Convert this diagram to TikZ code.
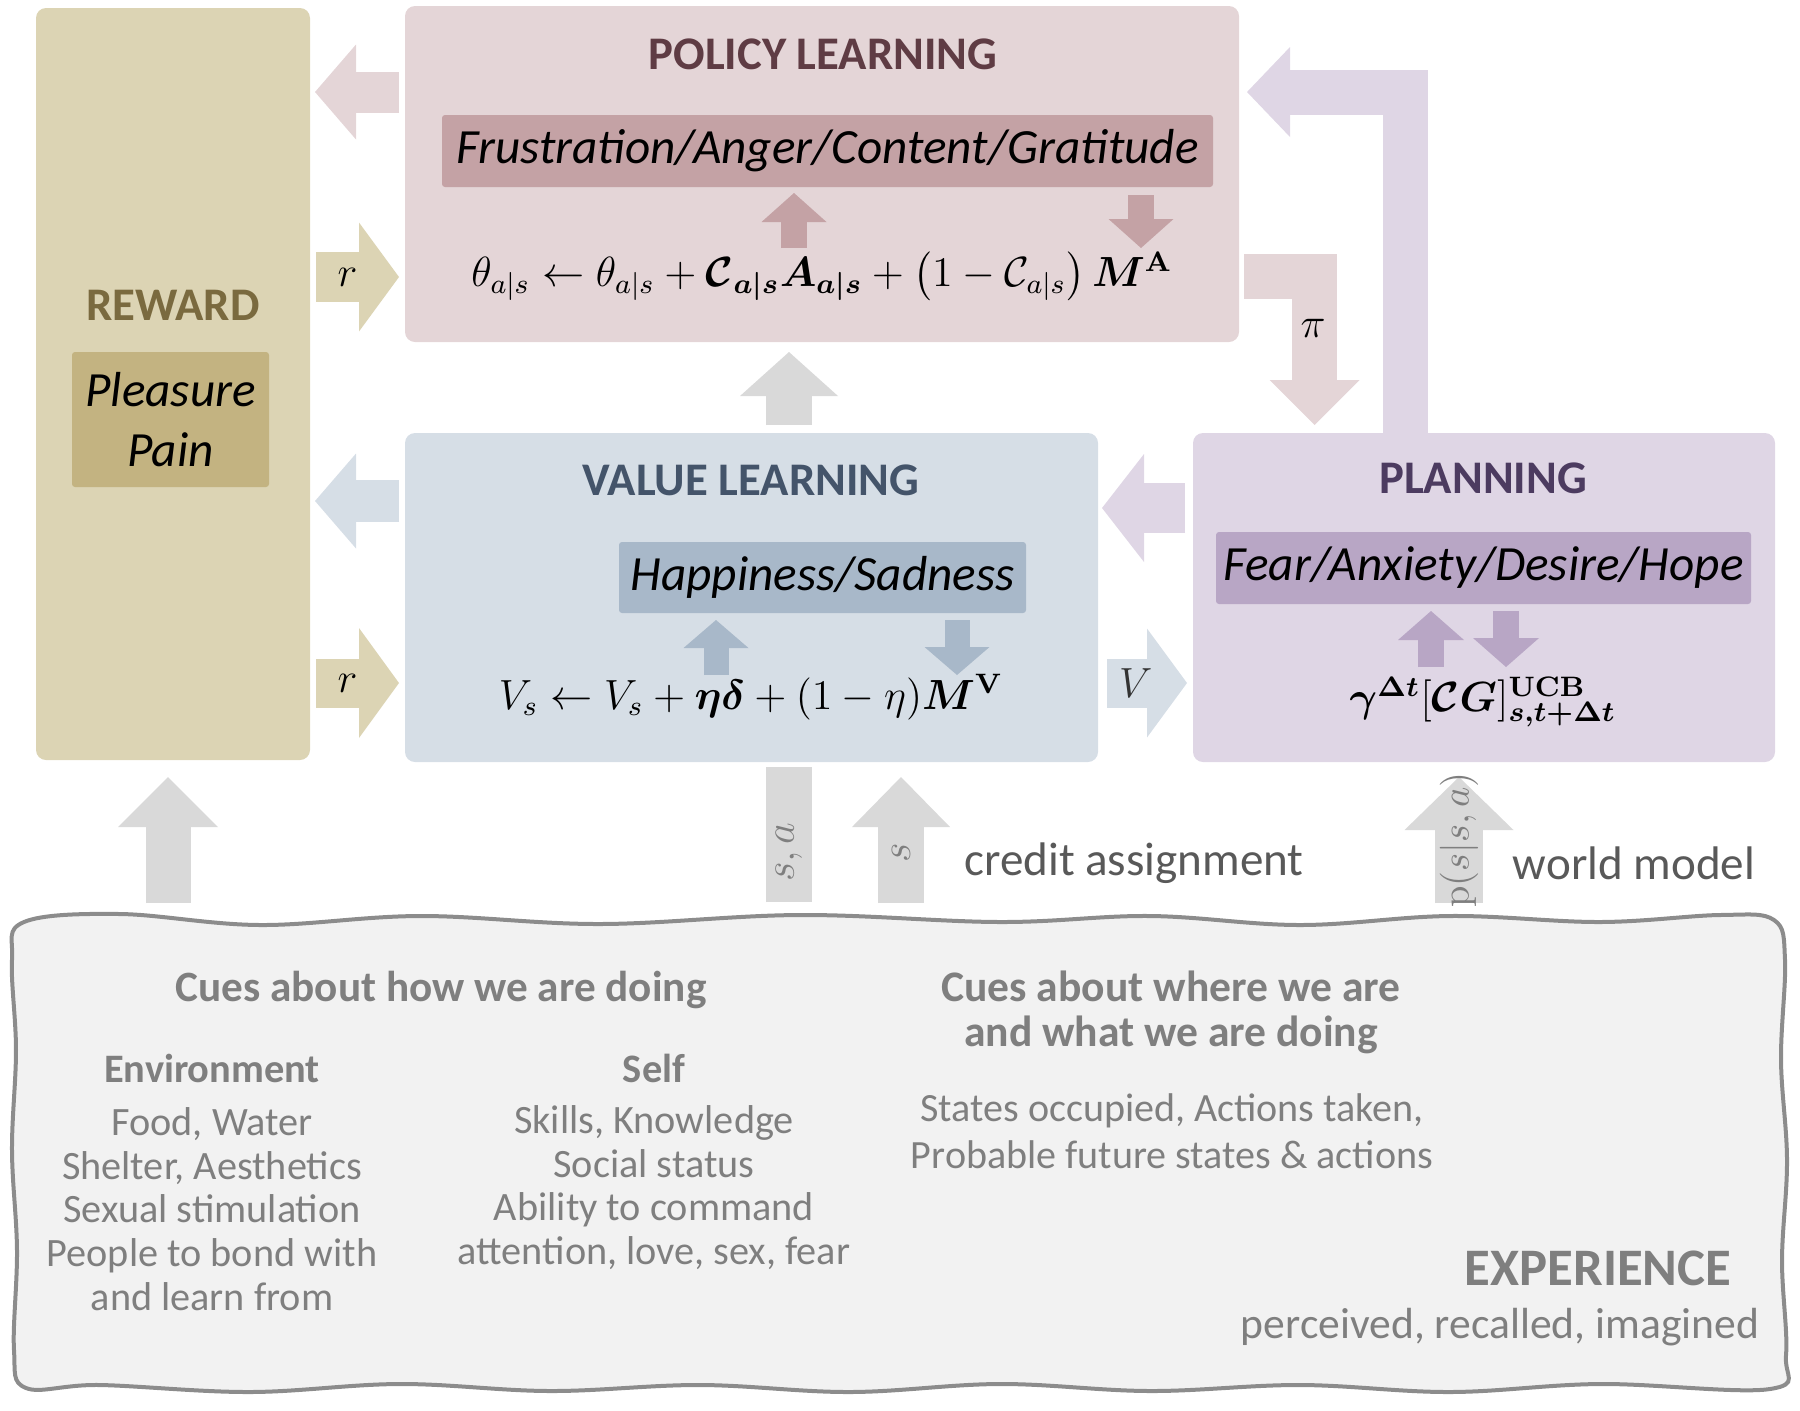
\documentclass[tikz,border=0pt]{standalone}
\usepackage[no-math]{fontspec}
\setmainfont{Carlito}
\usepackage{amsmath}
\usepackage{amssymb}
\usepackage{bm}
\usetikzlibrary{arrows.meta}

\definecolor{rewardbg}{HTML}{DCD4B4}
\definecolor{rewardbar}{HTML}{C3B381}
\definecolor{rewardtxt}{HTML}{7A6A3F}
\definecolor{policybg}{HTML}{E4D5D7}
\definecolor{policybar}{HTML}{C4A2A5}
\definecolor{policytxt}{HTML}{5F3C44}
\definecolor{valuebg}{HTML}{D6DEE6}
\definecolor{valuebar}{HTML}{A8B8C9}
\definecolor{valuetxt}{HTML}{44546A}
\definecolor{planbg}{HTML}{DFD6E5}
\definecolor{planbar}{HTML}{B8A6C5}
\definecolor{plantxt}{HTML}{4C3B60}
\definecolor{cuegray}{HTML}{D9D9D9}
\definecolor{expbg}{HTML}{F2F2F2}
\definecolor{expline}{HTML}{8C8C8C}
\definecolor{exptxt}{HTML}{7F7F7F}
\definecolor{darktxt}{HTML}{595959}

\tikzset{
  box/.style={rounded corners=1mm, inner sep=0pt},
  emobar/.style={rounded corners=0.3mm, inner sep=0pt},
  title/.style={font=\fontsize{13.3}{16}\selectfont\bfseries},
  emo/.style={font=\fontsize{14}{17}\selectfont\itshape},
  eqn/.style={inner sep=0.5pt, font=\fontsize{11.6}{14}\selectfont},
  lbl/.style={font=\fontsize{13}{15}\selectfont},
  cue/.style={text=exptxt, align=center, font=\fontsize{11.45}{12.4}\selectfont},
  cuehead/.style={text=exptxt, align=center, font=\fontsize{11.5}{13}\selectfont\bfseries},
  fat/.style n args={3}{line width=#1, line join=miter,
    -{Triangle[length=#2, width=#3, line width=0pt]}},
}

\begin{document}
\begin{tikzpicture}[x=0.1mm, y=-0.1mm]
  \useasboundingbox (0,0) rectangle (1800,1410);

  % boxes
  \node[box, fill=rewardbg, minimum width=27.4mm, minimum height=75.2mm] (reward) at (173,384) {};
  \node[box, fill=policybg, minimum width=83.4mm, minimum height=33.6mm] (policy) at (822,174) {};
  \node[box, fill=valuebg, minimum width=69.3mm, minimum height=32.9mm] (value) at (751.5,597.5) {};
  \node[box, fill=planbg, minimum width=58.2mm, minimum height=32.9mm] (plan) at (1484,597.5) {};

  \node[title, text=rewardtxt] (rewardt) at (173,305) {REWARD};
  \node[title, text=policytxt] (policyt) at (823,54) {POLICY LEARNING};
  \node[title, text=valuetxt] (valuet) at (751,480) {VALUE LEARNING};
  \node[title, text=plantxt] (plant) at (1483,478) {PLANNING};

  % emotions
  \node[emobar, fill=rewardbar, minimum width=19.7mm, minimum height=13.5mm,
        emo, align=center] (pleasure) at (170.5,419.5) {Pleasure\\Pain};
  \node[emobar, fill=policybar, minimum width=77.1mm, minimum height=7.2mm, emo] (frust) at (827.5,151) {Frustration/Anger/Content/Gratitude};
  \node[emobar, fill=valuebar, minimum width=40.7mm, minimum height=7.1mm, emo] (happy) at (822.5,577.5) {Happiness/Sadness};
  \node[emobar, fill=planbar, minimum width=53.5mm, minimum height=7.2mm, emo] (fear) at (1483.5,568) {Fear/Anxiety/Desire/Hope};

  % updates
  \node[eqn] (poleq) at (822,276) {$\theta_{a|s} \leftarrow \theta_{a|s} + \bm{\mathcal{C}}_{\bm{a|s}}\bm{A}_{\bm{a|s}} + \left(1 - \mathcal{C}_{a|s}\right)\bm{M}^{\mathbf{A}}$};
  \node[eqn] (valeq) at (751,697) {$V_s \leftarrow V_s + \bm{\eta\delta} + (1-\eta)\bm{M}^{\mathbf{V}}$};
  \node[eqn] (planeq) at (1483,702) {$\bm{\gamma}^{\bm{\Delta t}}[\bm{\mathcal{C}G}]^{\mathbf{UCB}}_{\bm{s,t+\Delta t}}$};

  % little arrows between emotions and updates
  \coordinate (pu1) at (794,248); \coordinate (pu2) at (794,193);
  \coordinate (pd1) at (1141,195); \coordinate (pd2) at (1141,248);
  \coordinate (vu1) at (716,675); \coordinate (vu2) at (716,620);
  \coordinate (vd1) at (957,620); \coordinate (vd2) at (957,675);
  \coordinate (lu1) at (1431,667); \coordinate (lu2) at (1431,611);
  \coordinate (ld1) at (1506,611); \coordinate (ld2) at (1506,667);
  \draw[fat={2.6mm}{2.9mm}{6.5mm}, policybar] (pu1) -- (pu2);
  \draw[fat={2.6mm}{2.9mm}{6.5mm}, policybar] (pd1) -- (pd2);
  \draw[fat={2.5mm}{2.8mm}{6.5mm}, valuebar] (vu1) -- (vu2);
  \draw[fat={2.5mm}{2.8mm}{6.5mm}, valuebar] (vd1) -- (vd2);
  \draw[fat={2.6mm}{2.9mm}{6.6mm}, planbar] (lu1) -- (lu2);
  \draw[fat={2.6mm}{2.9mm}{6.6mm}, planbar] (ld1) -- (ld2);

  % big arrows
  \coordinate (pol2rew1) at (399,92);  \coordinate (pol2rew2) at (315,92);
  \coordinate (rew2pol1) at (316,277); \coordinate (rew2pol2) at (399,277);
  \coordinate (val2rew1) at (399,501); \coordinate (val2rew2) at (315,501);
  \coordinate (rew2val1) at (316,683); \coordinate (rew2val2) at (399,683);
  \coordinate (pla2val1) at (1185,508); \coordinate (pla2val2) at (1102,508);
  \coordinate (val2pla1) at (1107,683); \coordinate (val2pla2) at (1187,683);
  \coordinate (pol2pla1) at (1244,276.5); \coordinate (pol2pla2) at (1314.5,425);
  \coordinate (pla2pol1) at (1405.5,433); \coordinate (pla2pol2) at (1247,92);
  \coordinate (val2pol1) at (789,425); \coordinate (val2pol2) at (789,352);

  \draw[fat={4.1mm}{4.1mm}{9.5mm}, policybg] (pol2rew1) -- (pol2rew2);
  \draw[fat={5mm}{4mm}{10.9mm}, rewardbg] (rew2pol1) -- (rew2pol2) node[pos=0.38, lbl, text=black] {$r$};
  \draw[fat={4.2mm}{4.1mm}{9.5mm}, valuebg] (val2rew1) -- (val2rew2);
  \draw[fat={4.9mm}{4mm}{11mm}, rewardbg] (rew2val1) -- (rew2val2) node[pos=0.38, lbl, text=black] {$r$};
  \draw[fat={5mm}{4.2mm}{10.8mm}, planbg] (pla2val1) -- (pla2val2);
  \draw[fat={4.9mm}{4mm}{10.9mm}, valuebg] (val2pla1) -- (val2pla2) node[pos=0.36, lbl, text=black!80] {$V$};
  \draw[fat={4.5mm}{4.5mm}{9mm}, policybg] (pol2pla1) -| (pol2pla2);
  \node[lbl] (pilbl) at (1313,328) {$\pi$};
  \draw[fat={4.5mm}{4.3mm}{9mm}, planbg] (pla2pol1) |- (pla2pol2);
  \draw[fat={4.6mm}{4.4mm}{9.8mm}, cuegray] (val2pol1) -- (val2pol2);

  % experience
  \draw[line width=0.4mm, draw=expline, fill=expbg] plot[smooth cycle, tension=0.6] coordinates {
    (24,922) (120,914) (260,925) (420,916) (600,924) (800,915) (1000,922) (1150,916)
    (1300,925) (1450,916) (1600,922) (1720,915) (1774,920) (1785,960) (1781,1060)
    (1787,1160) (1782,1260) (1786,1355) (1770,1389) (1600,1384) (1450,1392) (1300,1385)
    (1150,1391) (1000,1384) (850,1392) (700,1385) (550,1391) (400,1384) (250,1392)
    (100,1385) (26,1388) (14,1350) (17,1250) (12,1150) (16,1050) (12,960)};
  \node[inner sep=0pt] (exp) at (900,1155) {};

  \coordinate (exp2rew1) at (168,903); \coordinate (exp2rew2) at (168,777);
  \coordinate (sa1) at (789,902); \coordinate (sa2) at (789,767);
  \coordinate (s1) at (901,903); \coordinate (s2) at (901,777);
  \coordinate (wm1) at (1459,903); \coordinate (wm2) at (1459,777);
  \draw[fat={4.5mm}{5mm}{10mm}, cuegray] (exp2rew1) -- (exp2rew2);
  \draw[line width=4.6mm, cuegray] (sa1) -- (sa2) node[pos=0.37, rotate=90, lbl, text=exptxt] {$s, a$};
  \draw[fat={4.6mm}{5mm}{9.8mm}, cuegray] (s1) -- (s2) node[pos=0.4, rotate=90, lbl, text=exptxt] {$s$};
  \draw[fat={4.8mm}{5.3mm}{10.9mm}, cuegray] (wm1) -- (wm2) node[pos=0.5, rotate=90, font=\fontsize{10.5}{12}\selectfont, text=exptxt] {$\mathrm{p}(s|s, a)$};

  \node[text=darktxt, font=\fontsize{13.4}{15}\selectfont] (credit) at (1134,863) {credit assignment};
  \node[text=darktxt, font=\fontsize{13.4}{15}\selectfont] (world) at (1634,863) {world model};

  \node[cuehead, font=\fontsize{12.3}{14}\selectfont\bfseries] (howdo) at (441,990) {Cues about how we are doing};
  \node[cuehead] (envh) at (212,1068) {Environment};
  \node[cuehead] (selfh) at (654,1068) {Self};
  \node[cue] (envl) at (212,1209) {Food, Water\\Shelter, Aesthetics\\Sexual stimulation\\People to bond with\\and learn from};
  \node[cue] (selfl) at (654,1187.5) {Skills, Knowledge\\Social status\\Ability to command\\attention, love, sex, fear};
  \node[cuehead, font=\fontsize{12.4}{12.8}\selectfont\bfseries] (where) at (1171,1012.5) {Cues about where we are\\and what we are doing};
  \node[cue, font=\fontsize{11.4}{13.4}\selectfont] (states) at (1172,1131.5) {States occupied, Actions taken,\\Probable future states \& actions};
  \node[text=exptxt, font=\fontsize{15}{17}\selectfont\bfseries] (expt) at (1598,1268) {EXPERIENCE};
  \node[text=exptxt, font=\fontsize{12.4}{14}\selectfont] (expsub) at (1500,1327) {perceived, recalled, imagined};
\end{tikzpicture}
\end{document}
